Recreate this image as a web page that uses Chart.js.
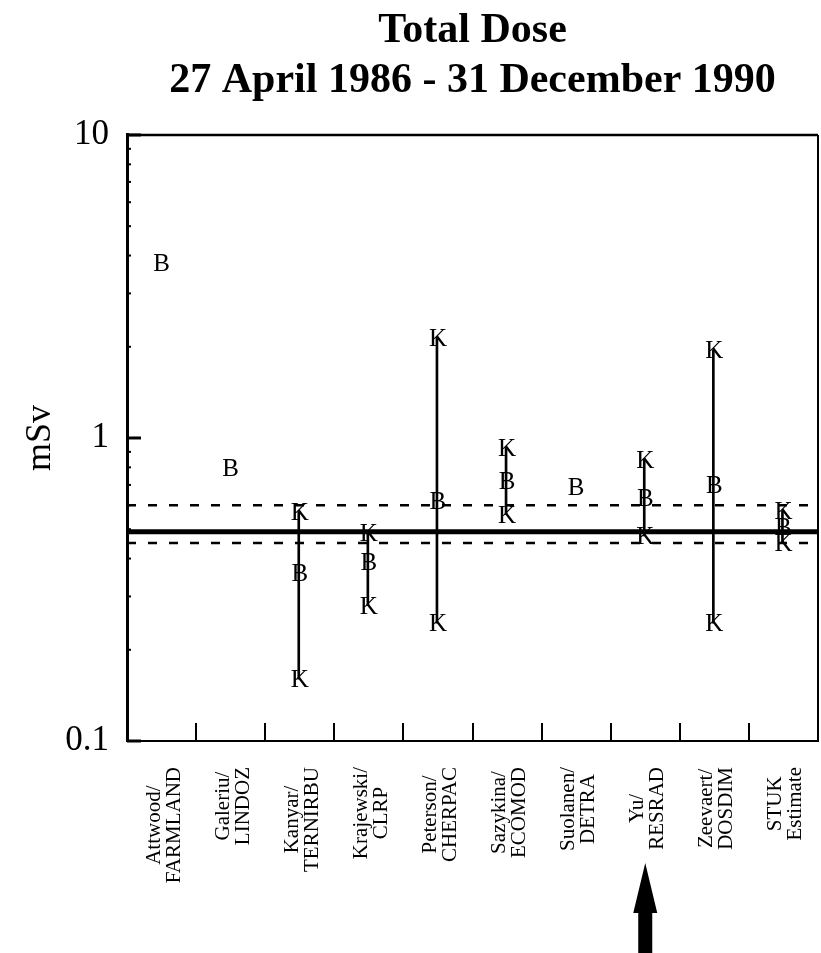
<!DOCTYPE html>
<html>
<head>
<meta charset="utf-8">
<title>Total Dose</title>
<script src="https://cdn.jsdelivr.net/npm/chart.js@4.4.0/dist/chart.umd.min.js"></script>
<style>
  body { margin: 0; background: #fff; }
  canvas { display: block; }
</style>
</head>
<body>
<canvas id="doseChart" width="821" height="953"></canvas>
<script>
// model / code names, two lines each
const models = [
    ['Attwood/', 'FARMLAND'], ['Galeriu/', 'LINDOZ'], ['Kanyar/', 'TERNIRBU'],
    ['Krajewski/', 'CLRP'], ['Peterson/', 'CHERPAC'], ['Sazykina/', 'ECOMOD'],
    ['Suolanen/', 'DETRA'], ['Yu/', 'RESRAD'], ['Zeevaert/', 'DOSDIM'],
    ['STUK', 'Estimate']
];
// B = best estimate, K = lower / upper confidence values (mSv)
const bestValues = [3.8, 0.8, 0.36, 0.39, 0.62, 0.72, 0.69, 0.635, 0.70, 0.51];
const lowerK = [null, null, 0.16, 0.28, 0.245, 0.56, null, 0.475, 0.245, 0.45];
const upperK = [null, null, 0.57, 0.485, 2.15, 0.93, null, 0.85, 1.95, 0.575];
// observed value and its range
const observed = 0.49;
const observedLow = 0.45;
const observedHigh = 0.6;
const yTickLabels = [0.1, 1, 10];
const minorSteps = [2, 3, 4, 5, 6, 7, 8, 9];
const highlighted = 'Yu/';

const serif = "'Liberation Serif', 'Times New Roman', serif";

const rangeData = lowerK.map((lo, i) => lo == null ? null : [lo, upperK[i]]);

// draws letters, inner ticks, frame, rotated labels and the arrow
const dosePlot = {
    id: 'dosePlot',
    afterDatasetsDraw(chart) {
        const ctx = chart.ctx;
        ctx.save();
        ctx.fillStyle = '#000';
        ctx.font = '25px ' + serif;
        ctx.textAlign = 'center';
        ctx.textBaseline = 'alphabetic';
        chart.data.datasets.forEach((ds, i) => {
            if (!ds.letter) return;
            chart.getDatasetMeta(i).data.forEach((pt, j) => {
                if (ds.data[j] == null || pt.skip) return;
                ctx.fillText(ds.letter, pt.x, pt.y + 25 * 0.662 / 2);
            });
        });
        ctx.restore();
    },
    afterDraw(chart) {
        const ctx = chart.ctx;
        const area = chart.chartArea;
        const x = chart.scales.x;
        const y = chart.scales.y;
        ctx.save();
        ctx.strokeStyle = '#000';
        ctx.fillStyle = '#000';

        // top and right frame
        ctx.lineWidth = 2.5;
        ctx.beginPath();
        ctx.moveTo(area.left, area.top);
        ctx.lineTo(area.right, area.top);
        ctx.stroke();
        ctx.lineWidth = 2;
        ctx.beginPath();
        ctx.moveTo(area.right, area.top);
        ctx.lineTo(area.right, area.bottom);
        ctx.stroke();

        // y ticks pointing inward
        yTickLabels.forEach(v => {
            const py = y.getPixelForValue(v);
            ctx.lineWidth = 3;
            ctx.beginPath();
            ctx.moveTo(area.left, py);
            ctx.lineTo(area.left + 14, py);
            ctx.stroke();
            if (v < 10) {
                minorSteps.forEach(m => {
                    const my = y.getPixelForValue(v * m);
                    ctx.lineWidth = 2;
                    ctx.beginPath();
                    ctx.moveTo(area.left, my);
                    ctx.lineTo(area.left + 4, my);
                    ctx.stroke();
                });
            }
        });

        // x ticks between categories, pointing up
        ctx.lineWidth = 2;
        for (let i = 0; i < models.length - 1; i++) {
            const px = Math.round(x.getPixelForValue(i + 0.5));
            ctx.beginPath();
            ctx.moveTo(px, area.bottom);
            ctx.lineTo(px, area.bottom - 18);
            ctx.stroke();
        }

        // rotated model labels, lines centred in a block hung under the axis
        ctx.font = '21px ' + serif;
        ctx.textAlign = 'center';
        ctx.textBaseline = 'alphabetic';
        const top = area.bottom + 26;
        models.forEach((lines, i) => {
            const px = x.getPixelForValue(i);
            const w = Math.max(...lines.map(l => ctx.measureText(l).width));
            ctx.save();
            ctx.translate(px, top);
            ctx.rotate(-Math.PI / 2);
            lines.forEach((l, k) => ctx.fillText(l, -w / 2, -2 + k * 20));
            ctx.restore();
        });

        // arrow under the highlighted model
        const ai = models.findIndex(l => l[0] === highlighted);
        const ax = x.getPixelForValue(ai);
        const tip = area.bottom + 122;
        ctx.beginPath();
        ctx.moveTo(ax, tip);
        ctx.lineTo(ax + 12, tip + 50);
        ctx.lineTo(ax + 7, tip + 50);
        ctx.lineTo(ax + 7, chart.height);
        ctx.lineTo(ax - 7, chart.height);
        ctx.lineTo(ax - 7, tip + 50);
        ctx.lineTo(ax - 12, tip + 50);
        ctx.closePath();
        ctx.fill();
        ctx.restore();
    }
};

const ctx = document.getElementById('doseChart').getContext('2d');
new Chart(ctx, {
    type: 'bar',
    data: {
        labels: models.map(l => l.join(' ')),
        datasets: [
            {
                label: 'range',
                data: rangeData,
                backgroundColor: '#000',
                barThickness: 2,
                order: 5
            },
            {
                type: 'line', label: 'B', letter: 'B', data: bestValues,
                showLine: false, pointRadius: 0
            },
            {
                type: 'line', label: 'K low', letter: 'K', data: lowerK,
                showLine: false, pointRadius: 0
            },
            {
                type: 'line', label: 'K high', letter: 'K', data: upperK,
                showLine: false, pointRadius: 0
            },
            {
                type: 'line', label: 'observed', xAxisID: 'xr',
                data: [{x: 0, y: observed}, {x: 10, y: observed}],
                borderColor: '#000', borderWidth: 5, pointRadius: 0
            },
            {
                type: 'line', label: 'observed high', xAxisID: 'xr',
                data: [{x: 0, y: observedHigh}, {x: 10, y: observedHigh}],
                borderColor: '#000', borderWidth: 2.5, borderDash: [9, 12], pointRadius: 0
            },
            {
                type: 'line', label: 'observed low', xAxisID: 'xr',
                data: [{x: 0, y: observedLow}, {x: 10, y: observedLow}],
                borderColor: '#000', borderWidth: 2.5, borderDash: [9, 12], pointRadius: 0
            }
        ]
    },
    options: {
        responsive: false,
        animation: false,
        layout: { padding: { top: 0, right: 3, bottom: 0, left: 0 } },
        plugins: {
            legend: { display: false },
            tooltip: { enabled: false },
            title: {
                display: true,
                fullSize: false,
                text: ['Total Dose', '27 April 1986 - 31 December 1990'],
                color: '#000',
                font: { family: serif, size: 42, weight: 'bold', lineHeight: 1.19 },
                padding: { top: 6, bottom: 29 }
            }
        },
        scales: {
            x: {
                type: 'category',
                grid: { display: false },
                ticks: { display: false },
                border: { display: true, color: '#000', width: 2 },
                afterFit(s) { s.height = 212; }
            },
            xr: {
                type: 'linear',
                display: false,
                offset: false,
                min: 0,
                max: 10
            },
            y: {
                type: 'logarithmic',
                min: 0.1,
                max: 10,
                grid: { display: false },
                border: { display: true, color: '#000', width: 3 },
                ticks: {
                    autoSkip: false,
                    padding: 10,
                    color: '#000',
                    font: { family: serif, size: 35 },
                    callback: v => yTickLabels.some(t => Math.abs(t - v) < 1e-9) ? String(v) : ''
                },
                title: {
                    display: true,
                    text: 'mSv',
                    color: '#000',
                    font: { family: serif, size: 36 },
                    padding: { top: 19, bottom: 0 }
                },
                afterFit(s) { s.width = 127; }
            }
        }
    },
    plugins: [dosePlot]
});
</script>
</body>
</html>
